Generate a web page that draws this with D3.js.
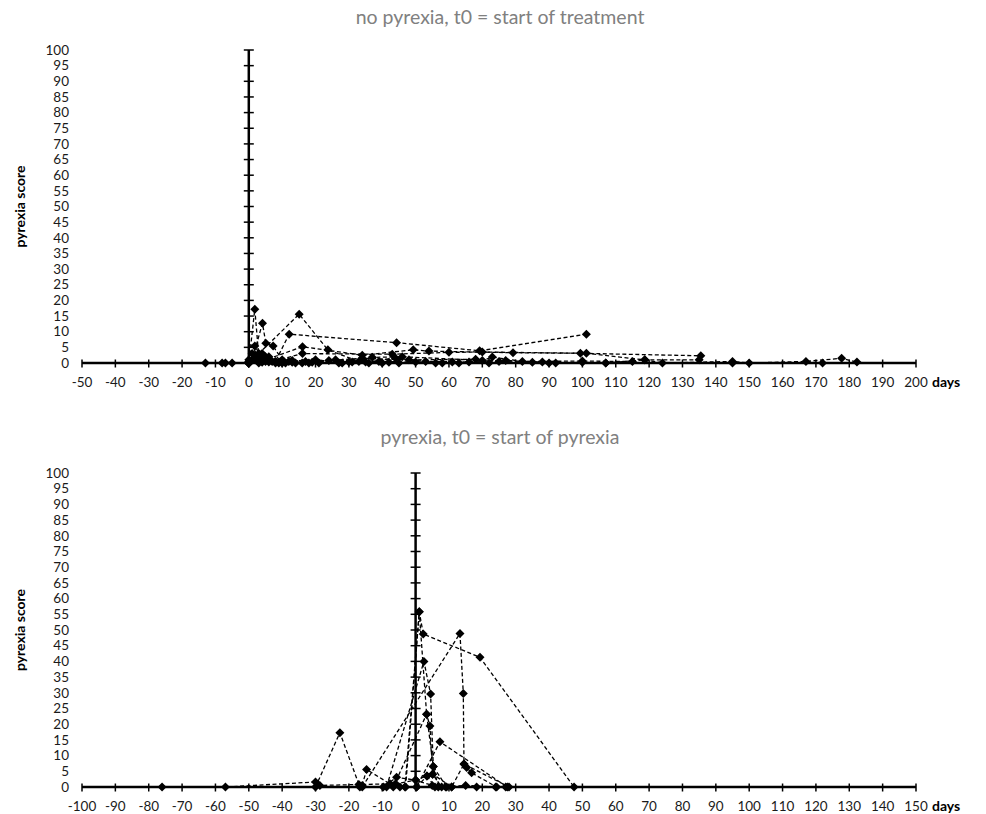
<!DOCTYPE html>
<html lang="en">
<head>
<meta charset="utf-8">
<title>Pyrexia score</title>
<style>
  body { margin: 0; background: #fff; }
  svg text { font-family: Lato, "Open Sans", sans-serif; }
  .tick-label { font-size: 13.5px; fill: #1a1a1a; }
  .title { font-size: 19.5px; fill: #808080; }
  .axis-title { font-size: 14px; font-weight: bold; fill: #000; }
</style>
<script src="https://cdn.jsdelivr.net/npm/d3@7"></script>
</head>
<body>
<svg id="chart" width="986" height="814"></svg>
<script>
// titles
var topTitle = 'no pyrexia, t0 = start of treatment';
var bottomTitle = 'pyrexia, t0 = start of pyrexia';

// tick values
var yTicks = d3.range(0, 101, 5);
var topXTicks = d3.range(-50, 201, 10);
var bottomXTicks = d3.range(-100, 151, 10);

// no pyrexia patients: [day, score]
var noPyr1 = [[-13,0],[-8,0],[-7,0],[-5,0],[0,0],[1.8,17.2],[3,2],[5,0.5],[8,0]];
var noPyr2 = [[0,0],[1,1],[4.1,12.7],[5.1,6.3],[7.3,5.4],[10,1],[16,0]];
var noPyr3 = [[0,0.5],[1.8,5.4],[4,1.5],[8,0.5],[12.1,9.2],[44.3,6.5],[69.2,3.9],[101.2,9.2]];
var noPyr4 = [[0,0],[3,3],[15.1,15.6],[23.7,4.2],[33,0.5],[40,0]];
var noPyr5 = [[0,0],[5,1],[16.1,5.2],[34,2.5],[49.3,4.2],[54,3.8],[79.2,3.3],[99.4,3.1],[135.5,2.3]];
var noPyr6 = [[0,0],[7,0.5],[16.1,3],[43,2.8],[60,3.4],[70,3.5],[101.2,3.1],[118.7,1],[135,1]];
var noPyr7 = [[0,0],[12,0.5],[24,0.8],[34,1.5],[48,1],[68,1.2],[75,0.5],[92,0],[107,0],[118.7,1],[124,0],[145,0.5],[150,0],[167,0.5],[177.7,1.5],[182.3,0.3]];
var noPyr8 = [[0,0],[3,0],[9,0],[14,0],[21,0],[27,0],[36,0],[45,0],[58,0],[72,0],[90,0],[100,0.2],[107,0],[145,0],[172,0]];
var noPyr9 = [[0,0],[2,1],[5,2],[10,0.5],[20,1],[30,0.3],[37,1.8],[46,2],[70,0.8],[73,1.9],[82,0.5],[100,0.6],[115,0.5]];
var noPyr10 = [[0,1],[3,0.8],[6,0.3],[11,0],[17,0.5],[28,0],[39,0.5],[50,0.3],[63,0],[85,0.2]];
var noPyr11 = [[0,0],[2,2.5],[4,3],[6,1],[9,0.3],[13,0.8],[19,0.2],[26,1],[35,0.3],[44,1.5],[53,0.5],[66,0.3],[77,0.8],[88,0.3]];
var noPyr12 = [[0,0.3],[1,3],[2.5,0.8],[4,0.2],[6,2],[8,0.3],[10,0],[13,0.2],[18,0],[31,0.3],[42,0.2],[56,0],[61,0.3]];

// pyrexia patients: [day, score]
var pyr1 = [[-76,0],[-57,0],[-30,1.6],[-28.7,0.5],[-17,0.8],[-6,1],[0,2.2],[5,0.5],[9,0],[15,0.5],[24,0]];
var pyr2 = [[-30,0],[-22.7,17.3],[-16.7,0],[-9.7,0],[-5.7,3.1],[0,2.2],[3.4,3.5],[5.8,0],[18.3,0]];
var pyr3 = [[-16,0.5],[-14.7,5.6],[-7.7,1],[-3.2,0],[1.1,55.8],[2.3,48.7],[19.3,41.3],[47.5,0]];
var pyr4 = [[-16,0],[13.3,48.9],[14.3,29.8],[14.5,7.3],[15.3,6.2],[16.8,4.5],[24.3,0]];
var pyr5 = [[-8.7,0],[2.5,40],[4.5,29.6],[5.3,6.5],[6.8,0]];
var pyr6 = [[-6.7,0],[3.3,23.2],[4.3,19.4],[5.1,4.1],[7.8,0],[27,0]];
var pyr7 = [[-4.7,0],[0.3,0],[7.3,14.4],[27.5,0]];
var pyr8 = [[-3,0],[1.1,55.8],[3.3,23.2],[5.3,6.5],[9.3,0],[10.8,0]];
var pyr9 = [[0.3,0],[3.4,3.5],[5.1,4.1],[10.8,0],[14.5,7.3],[28,0]];

var svg = d3.select('#chart');

function drawPanel(opts) {
  var x = d3.scaleLinear().domain(opts.xDomain).range([82, 916]);
  var y = d3.scaleLinear().domain([0, 100]).range([opts.yBottom, opts.yTop]);
  var g = svg.append('g');

  g.append('text')
    .attr('class', 'title')
    .attr('x', 500)
    .attr('y', opts.titleY)
    .attr('text-anchor', 'middle')
    .text(opts.title);

  // series lines
  var line = d3.line().x(function(d) { return x(d[0]); }).y(function(d) { return y(d[1]); });
  opts.series.forEach(function(s) {
    g.append('path')
      .attr('d', line(s))
      .attr('fill', 'none')
      .attr('stroke', '#000')
      .attr('stroke-width', 1.3)
      .attr('stroke-dasharray', '4,2.5');
  });

  // x axis
  g.append('line')
    .attr('x1', x(opts.xDomain[0])).attr('x2', x(opts.xDomain[1]))
    .attr('y1', y(0)).attr('y2', y(0))
    .attr('stroke', '#000').attr('stroke-width', 2.5);
  g.selectAll('.xt').data(opts.xTicks).enter().append('line')
    .attr('x1', function(d) { return x(d); }).attr('x2', function(d) { return x(d); })
    .attr('y1', y(0) - 3.5).attr('y2', y(0) + 4.5)
    .attr('stroke', '#000').attr('stroke-width', 1.5);
  g.selectAll('.xl').data(opts.xTicks).enter().append('text')
    .attr('class', 'tick-label')
    .attr('x', function(d) { return x(d); })
    .attr('y', y(0) + 24)
    .attr('text-anchor', 'middle')
    .text(function(d) { return d; });

  // y axis at day 0
  g.append('line')
    .attr('x1', x(0)).attr('x2', x(0))
    .attr('y1', y(0)).attr('y2', y(100))
    .attr('stroke', '#000').attr('stroke-width', 2.5);
  g.selectAll('.yt').data(yTicks).enter().append('line')
    .attr('x1', x(0) - 5).attr('x2', x(0) + 5)
    .attr('y1', function(d) { return y(d); }).attr('y2', function(d) { return y(d); })
    .attr('stroke', '#000').attr('stroke-width', 1.5);
  g.selectAll('.yl').data(yTicks).enter().append('text')
    .attr('class', 'tick-label')
    .attr('x', 69)
    .attr('y', function(d) { return y(d); })
    .attr('dy', '0.35em')
    .attr('text-anchor', 'end')
    .text(function(d) { return d; });

  // markers
  var diamond = 'M0,-4.5L4.5,0L0,4.5L-4.5,0Z';
  opts.series.forEach(function(s) {
    g.selectAll(null).data(s).enter().append('path')
      .attr('d', diamond)
      .attr('transform', function(d) { return 'translate(' + x(d[0]) + ',' + y(d[1]) + ')'; })
      .attr('fill', '#000');
  });

  g.append('text')
    .attr('class', 'axis-title')
    .attr('transform', 'translate(25,' + ((y(0) + y(100)) / 2) + ') rotate(-90)')
    .attr('text-anchor', 'middle')
    .text('pyrexia score');

  g.append('text')
    .attr('class', 'axis-title')
    .attr('x', 932)
    .attr('y', y(0) + 24)
    .attr('text-anchor', 'start')
    .text('days');
}

drawPanel({
  title: topTitle, titleY: 24,
  xDomain: [-50, 200], xTicks: topXTicks,
  yBottom: 363, yTop: 50,
  series: [noPyr1, noPyr2, noPyr3, noPyr4, noPyr5, noPyr6, noPyr7, noPyr8, noPyr9, noPyr10, noPyr11, noPyr12]
});

drawPanel({
  title: bottomTitle, titleY: 444,
  xDomain: [-100, 150], xTicks: bottomXTicks,
  yBottom: 787, yTop: 473,
  series: [pyr1, pyr2, pyr3, pyr4, pyr5, pyr6, pyr7, pyr8, pyr9]
});
</script>
</body>
</html>
